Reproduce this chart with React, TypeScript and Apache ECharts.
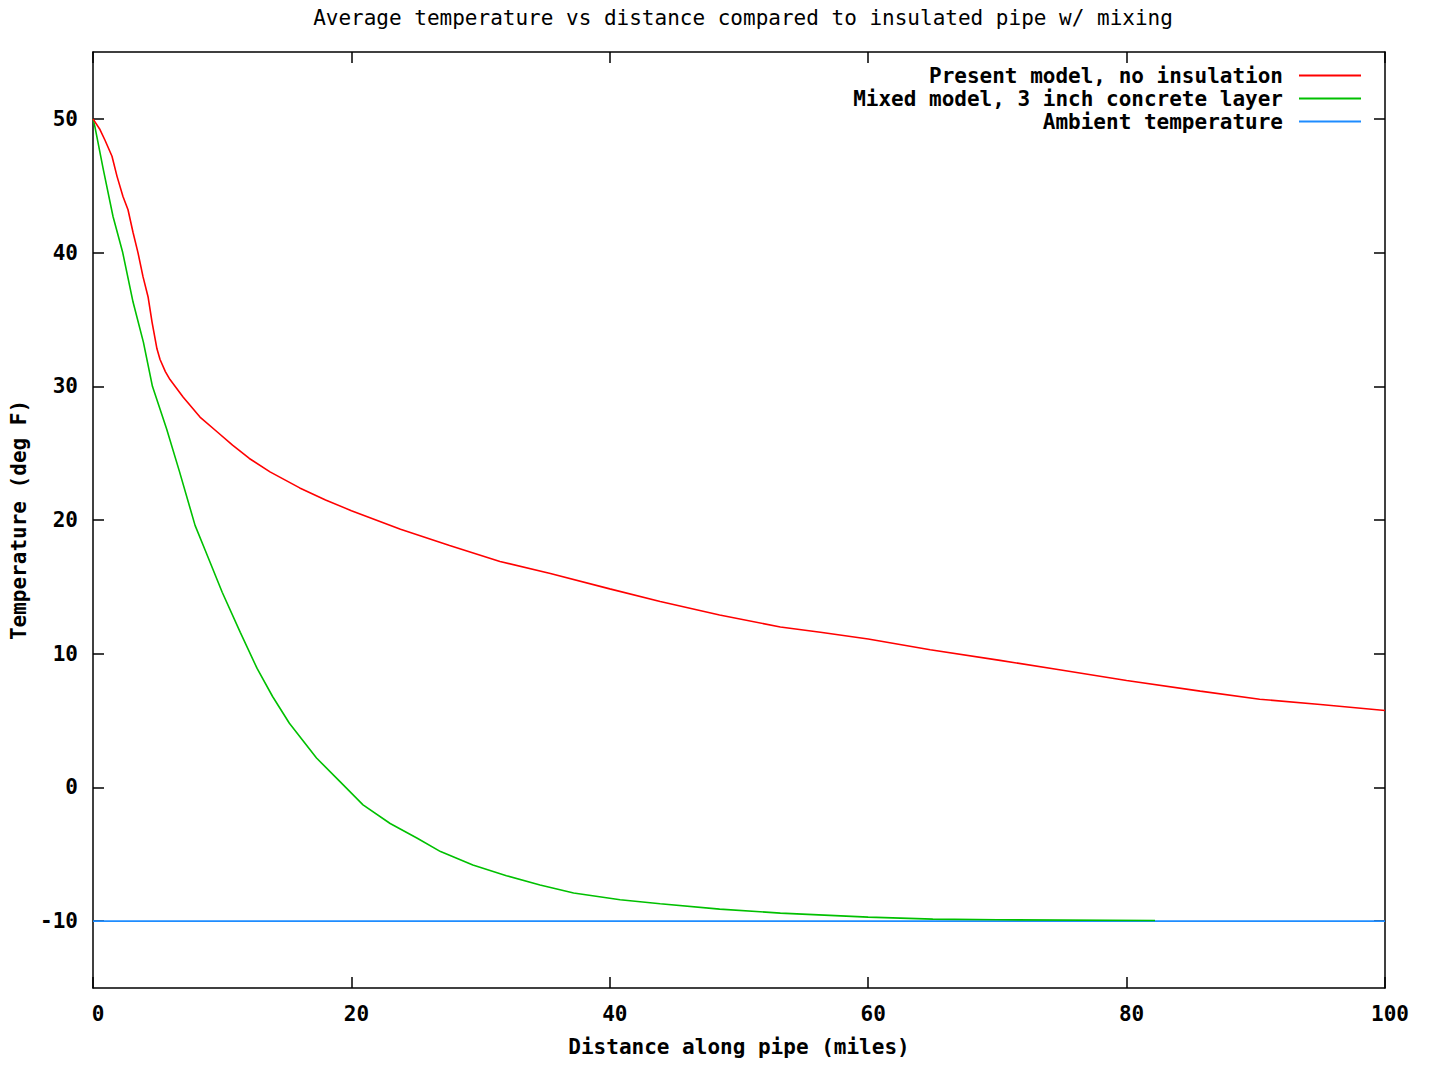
import React, { useEffect, useRef } from "react";
import * as echarts from "echarts";

const titleText = "Average temperature vs distance compared to insulated pipe w/ mixing";
const xAxisName = "Distance along pipe (miles)";
const yAxisName = "Temperature (deg F)";

const seriesNames = [
  "Present model, no insulation",
  "Mixed model, 3 inch concrete layer",
  "Ambient temperature",
];

const xTicks = [0, 20, 40, 60, 80, 100];
const yTicks = [-10, 0, 10, 20, 30, 40, 50];

const presentX = [0, 0.54, 0.93, 1.47, 1.86, 2.32, 2.71, 3.1, 3.48, 3.87, 4.26, 4.57, 4.95, 5.19, 5.6, 5.96, 6.97, 8.28, 9.6, 10.8, 12.1, 13.7, 16, 18, 20, 23.8, 27.6, 31.5, 35.4, 40, 43.9, 48.5, 53.2, 56.3, 60, 64.8, 70.2, 74.8, 80, 85.7, 90.3, 95, 100];
const presentY = [50, 49.2, 48.4, 47.2, 45.7, 44.2, 43.2, 41.5, 40.0, 38.2, 36.7, 34.8, 32.8, 32.0, 31.1, 30.5, 29.2, 27.7, 26.6, 25.6, 24.6, 23.6, 22.4, 21.5, 20.7, 19.3, 18.1, 16.9, 16.0, 14.85, 13.9, 12.9, 12.0, 11.6, 11.1, 10.3, 9.5, 8.8, 8.0, 7.2, 6.6, 6.2, 5.75];

const mixedX = [0, 0.15, 0.8, 1.55, 2.3, 3.1, 3.9, 4.6, 5.7, 6.7, 7.9, 8.7, 10, 11.4, 12.7, 13.9, 15.2, 17.3, 19.1, 20.9, 23.0, 25.1, 26.9, 29.4, 32.0, 34.6, 37.2, 40.8, 43.9, 48.5, 53.2, 60, 65, 70, 82.2];
const mixedY = [50, 49.4, 46.2, 42.7, 40.0, 36.3, 33.3, 30.0, 26.8, 23.6, 19.6, 17.7, 14.6, 11.6, 8.9, 6.8, 4.8, 2.2, 0.45, -1.3, -2.7, -3.8, -4.8, -5.8, -6.6, -7.3, -7.9, -8.4, -8.7, -9.1, -9.4, -9.7, -9.85, -9.9, -9.95];

const ambientX = [0, 100];
const ambientY = [-10, -10];

const colors = ["#ff0000", "#00c000", "#1e8cff"];

const FONT = "'DejaVu Sans Mono', 'Liberation Mono', monospace";

function zip(xs: number[], ys: number[]) {
  return xs.map((x, i) => [x, ys[i]]);
}

export default function App() {
  const ref = useRef<HTMLDivElement>(null);
  useEffect(() => {
    document.body.style.margin = "0";
    const chart = echarts.init(ref.current!, null, { renderer: "svg" });
    const axisLine = { show: true, onZero: false, lineStyle: { color: "#000", width: 1.5 } };
    const tick = { show: true, inside: true, length: 11, lineStyle: { color: "#000", width: 1.5 } };
    const legendTops = [65, 88, 111];
    chart.setOption({
      animation: false,
      backgroundColor: "#fff",
      title: {
        text: titleText,
        left: 738,
        top: 2,
        textAlign: "center",
        textStyle: { fontFamily: FONT, fontSize: 21, fontWeight: "normal", color: "#000" },
      },
      legend: seriesNames.map((n, i) => ({
        data: [n],
        orient: "vertical",
        right: 68,
        top: legendTops[i],
        align: "right",
        padding: 0,
        icon: "rect",
        itemWidth: 62,
        itemHeight: 2,
        selectedMode: false,
        textStyle: { fontFamily: FONT, fontSize: 21, fontWeight: "bold", color: "#000", padding: [0, 11, 0, 0] },
      })),
      grid: { left: 93, right: 44, top: 52, bottom: 78, containLabel: false },
      xAxis: [
        {
          type: "value",
          position: "bottom",
          min: 0,
          max: 100,
          interval: 20,
          name: xAxisName,
          nameLocation: "middle",
          nameGap: 48,
          nameTextStyle: { fontFamily: FONT, fontSize: 21, fontWeight: "bold", color: "#000" },
          axisLine,
          axisTick: { ...tick, customValues: xTicks },
          axisLabel: {
            customValues: xTicks,
            margin: 15,
            fontFamily: FONT,
            fontSize: 21,
            fontWeight: "bold",
            color: "#000",
            padding: [0, 0, 0, 10],
          },
          splitLine: { show: false },
        },
        {
          type: "value",
          position: "top",
          min: 0,
          max: 100,
          interval: 20,
          axisLine,
          axisTick: { ...tick, customValues: xTicks },
          axisLabel: { show: false },
          splitLine: { show: false },
        },
      ],
      yAxis: [
        {
          type: "value",
          position: "left",
          min: -15,
          max: 55,
          name: yAxisName,
          nameLocation: "middle",
          nameRotate: 90,
          nameGap: 64,
          nameTextStyle: { fontFamily: FONT, fontSize: 21, fontWeight: "bold", color: "#000" },
          axisLine,
          axisTick: { ...tick, customValues: yTicks },
          axisLabel: {
            customValues: yTicks,
            margin: 15,
            fontFamily: FONT,
            fontSize: 21,
            fontWeight: "bold",
            color: "#000",
          },
          splitLine: { show: false },
        },
        {
          type: "value",
          position: "right",
          min: -15,
          max: 55,
          axisLine,
          axisTick: { ...tick, customValues: yTicks },
          axisLabel: { show: false },
          splitLine: { show: false },
        },
      ],
      series: [
        { name: seriesNames[0], data: zip(presentX, presentY) },
        { name: seriesNames[1], data: zip(mixedX, mixedY) },
        { name: seriesNames[2], data: zip(ambientX, ambientY) },
      ].map((s, i) => ({
        ...s,
        type: "line",
        xAxisIndex: 0,
        yAxisIndex: 0,
        showSymbol: false,
        symbol: "none",
        color: colors[i],
        lineStyle: { color: colors[i], width: 1.6 },
        z: 3 - i,
      })),
    });
    return () => chart.dispose();
  }, []);
  return <div ref={ref} style={{ width: 1429, height: 1066 }} />;
}
